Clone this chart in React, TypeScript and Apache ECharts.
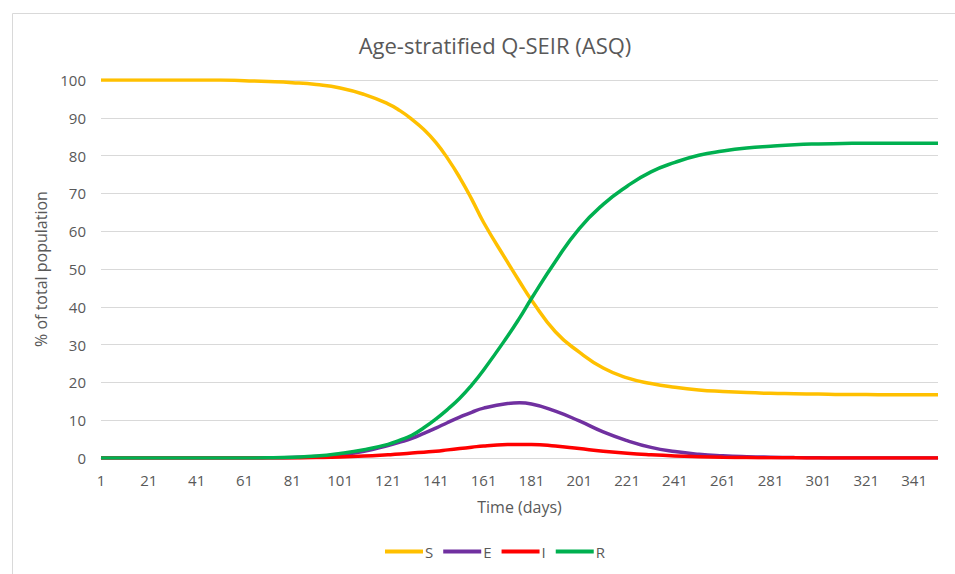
import React, { useEffect, useRef } from "react";
import * as echarts from "echarts";

const TITLE = "Age-stratified Q-SEIR (ASQ)";
const X_NAME = "Time (days)";
const Y_NAME = "% of total population";
const FIRST_DAY = 1;
const LAST_DAY = 351;

const DAYS = [1, 11, 21, 31, 41, 51, 61, 71, 81, 91, 101, 111, 121, 126, 131, 136, 141, 146, 151, 156, 161, 171, 176, 181, 191, 201, 211, 221, 231, 241, 251, 261, 271, 281, 291, 301, 311, 321, 331, 341, 351];

const S_VALUES = [100, 100, 100, 100, 100, 100, 99.8, 99.6, 99.3, 98.8, 97.9, 96.2, 93.7, 91.9, 89.6, 86.9, 83.5, 79.2, 74.2, 68.5, 62.3, 51.8, 46.7, 41.8, 33.4, 28.0, 23.8, 21.2, 19.7, 18.7, 18.0, 17.6, 17.3, 17.1, 17.0, 16.9, 16.8, 16.8, 16.7, 16.7, 16.7];
const E_VALUES = [0, 0, 0, 0, 0, 0, 0, 0.05, 0.15, 0.4, 0.9, 1.8, 3.3, 4.2, 5.2, 6.5, 7.9, 9.4, 10.8, 12.1, 13.2, 14.4, 14.6, 14.3, 12.4, 9.8, 6.9, 4.6, 2.8, 1.7, 1.0, 0.6, 0.35, 0.2, 0.1, 0.05, 0, 0, 0, 0, 0];
const I_VALUES = [0, 0, 0, 0, 0, 0, 0, 0, 0, 0.1, 0.25, 0.5, 0.85, 1.05, 1.3, 1.55, 1.8, 2.15, 2.5, 2.85, 3.2, 3.55, 3.6, 3.6, 3.2, 2.5, 1.8, 1.25, 0.85, 0.55, 0.35, 0.2, 0.12, 0.07, 0.04, 0.02, 0, 0, 0, 0, 0];
const R_VALUES = [0, 0, 0, 0, 0, 0, 0, 0.05, 0.2, 0.5, 1.2, 2.2, 3.6, 4.7, 6.0, 8.0, 10.3, 12.9, 15.8, 19.3, 23.3, 32.2, 37.0, 42.2, 52.0, 60.7, 67.1, 71.9, 75.7, 78.2, 80.1, 81.2, 82.0, 82.5, 82.9, 83.1, 83.2, 83.3, 83.3, 83.3, 83.3];

const SERIES_NAMES = ["S", "E", "I", "R"];
const SERIES_COLORS = ["#FFC000", "#7030A0", "#FF0000", "#00B050"];
const SERIES_VALUES = [S_VALUES, E_VALUES, I_VALUES, R_VALUES];

const FONT = "'Open Sans', 'Noto Sans', sans-serif";
const TEXT_COLOR = "#595959";
const GRID_COLOR = "#D9D9D9";

export default function App() {
  const ref = useRef<HTMLDivElement>(null);

  useEffect(() => {
    if (!ref.current) return;
    const chart = echarts.init(ref.current, undefined, { renderer: "svg" });
    const categories: string[] = [];
    for (let d = FIRST_DAY; d <= LAST_DAY; d++) categories.push(String(d));

    chart.setOption({
      animation: false,
      backgroundColor: "#ffffff",
      textStyle: { fontFamily: FONT },
      title: {
        text: TITLE,
        left: 490,
        textAlign: "center",
        top: 29,
        textStyle: { fontFamily: FONT, fontSize: 22, fontWeight: "normal", color: TEXT_COLOR },
      },
      graphic: [
        {
          type: "rect",
          shape: { x: 12.5, y: 13.5, width: 1000, height: 700 },
          style: { fill: "none", stroke: GRID_COLOR, lineWidth: 1 },
          silent: true,
        },
      ],
      legend: {
        data: SERIES_NAMES,
        bottom: 10,
        left: 380,
        icon: "rect",
        itemWidth: 38,
        itemHeight: 4,
        itemGap: 10,
        textStyle: { fontFamily: FONT, fontSize: 15, color: TEXT_COLOR, padding: [0, 0, 0, -3] },
      },
      grid: { left: 101, right: 17, top: 80, bottom: 116, containLabel: false },
      xAxis: {
        type: "category",
        data: categories,
        boundaryGap: false,
        name: X_NAME,
        nameLocation: "middle",
        nameGap: 41,
        nameTextStyle: { fontFamily: FONT, fontSize: 16, color: TEXT_COLOR },
        axisLine: { show: true, lineStyle: { color: GRID_COLOR, width: 1 } },
        axisTick: { show: false },
        axisLabel: { interval: 19, margin: 14, fontFamily: FONT, fontSize: 15, color: TEXT_COLOR },
        splitLine: { show: false },
      },
      yAxis: {
        type: "value",
        min: 0,
        max: 100,
        interval: 10,
        name: Y_NAME,
        nameLocation: "middle",
        nameGap: 49,
        nameTextStyle: { fontFamily: FONT, fontSize: 16, color: TEXT_COLOR },
        axisLine: { show: false },
        axisTick: { show: false },
        axisLabel: { margin: 15, fontFamily: FONT, fontSize: 15, color: TEXT_COLOR },
        splitLine: { lineStyle: { color: GRID_COLOR, width: 1 } },
      },
      series: SERIES_NAMES.map((name, k) => ({
        name,
        type: "line",
        smooth: 0.5,
        symbol: "none",
        color: SERIES_COLORS[k],
        lineStyle: { color: SERIES_COLORS[k], width: 3.5 },
        data: DAYS.map((d, i) => [d - FIRST_DAY, SERIES_VALUES[k][i]]),
      })),
    });
    return () => chart.dispose();
  }, []);

  return (
    <div
      ref={ref}
      style={{ position: "fixed", left: 0, top: 0, width: 955, height: 574, background: "#fff" }}
    />
  );
}
